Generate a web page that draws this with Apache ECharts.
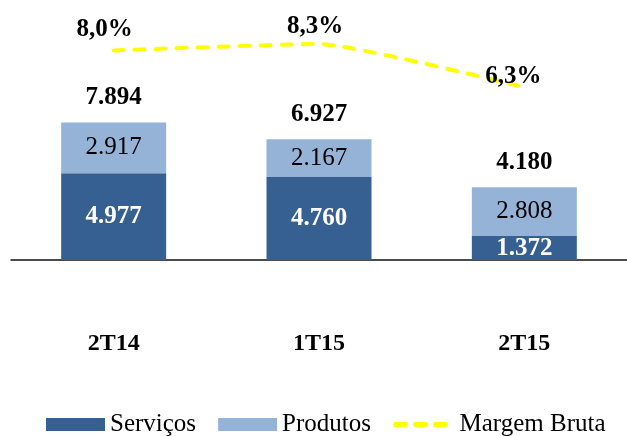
<!DOCTYPE html>
<html>
<head>
<meta charset="utf-8">
<script src="https://cdn.jsdelivr.net/npm/echarts@6/dist/echarts.min.js"></script>
<style>
html,body{margin:0;padding:0;background:#fff;}
#c{width:627px;height:436px;}
</style>
</head>
<body>
<div id="c"></div>
<script>
const categories = ['2T14', '1T15', '2T15'];
const servicos = [4977, 4760, 1372];
const produtos = [2917, 2167, 2808];
const margemBruta = [8.0, 8.3, 6.3];

const totals = categories.map((c, i) => servicos[i] + produtos[i]);
const FONT = "'Liberation Serif', 'Times New Roman', serif";
const fmtNum = v => String(v).replace(/\B(?=(\d{3})+(?!\d))/g, '.');
const fmtPct = v => v.toFixed(1).replace('.', ',') + '%';
const pctOffsets = [[-9, -21], [-4, -17], [-11, -11]];

const chart = echarts.init(document.getElementById('c'), null, {renderer: 'canvas'});
chart.setOption({
  animation: false,
  backgroundColor: '#ffffff',
  textStyle: {fontFamily: FONT},
  grid: {left: 11, top: 44, width: 623, bottom: 176, containLabel: false},
  legend: {
    left: 46, top: 412, padding: 0,
    itemWidth: 59, itemHeight: 13, itemGap: 22,
    data: [
      {name: 'Serviços', icon: 'rect'},
      {name: 'Produtos', icon: 'rect'},
      {name: 'Margem Bruta', itemStyle: {opacity: 0},
       lineStyle: {color: '#FFFF00', width: 5, type: [10, 10], cap: 'round'}}
    ],
    textStyle: {fontFamily: FONT, fontSize: 25, color: '#000'}
  },
  xAxis: {
    type: 'category', data: categories,
    axisTick: {show: false},
    axisLine: {lineStyle: {color: '#111', width: 1.5}},
    axisLabel: {margin: 72, fontFamily: FONT, fontSize: 24, fontWeight: 'bold', color: '#000'}
  },
  yAxis: [
    {type: 'value', min: 0, max: 12400, show: false, splitLine: {show: false}},
    {type: 'value', min: -1.7, max: 8.3, show: false, splitLine: {show: false}}
  ],
  series: [
    {
      name: 'Serviços', type: 'bar', stack: 'total', barWidth: 105,
      data: servicos,
      itemStyle: {color: '#376092'},
      label: {show: true, position: 'inside', formatter: p => fmtNum(p.value),
        fontFamily: FONT, fontSize: 25, fontWeight: 'bold', color: '#fff'}
    },
    {
      name: 'Produtos', type: 'bar', stack: 'total', barWidth: 105,
      data: produtos,
      itemStyle: {color: '#95B3D7'},
      label: {show: true, position: 'inside', formatter: p => fmtNum(p.value),
        fontFamily: FONT, fontSize: 25, color: '#000'}
    },
    {
      name: 'Total', type: 'scatter', data: totals, symbolSize: 0,
      silent: true, itemStyle: {opacity: 1},
      label: {show: true, position: 'inside', offset: [0, -25], formatter: p => fmtNum(p.value),
        fontFamily: FONT, fontSize: 25, fontWeight: 'bold', color: '#000'}
    },
    {
      name: 'Margem Bruta', type: 'line', yAxisIndex: 1, data: margemBruta,
      symbol: 'none', smooth: 0.15, z: 5,
      itemStyle: {color: '#FFFF00'},
      lineStyle: {color: '#FFFF00', width: 4, type: [10, 11], cap: 'round'}
    },
    {
      name: 'MargemLabels', type: 'scatter', yAxisIndex: 1, symbolSize: 0, silent: true, z: 6,
      itemStyle: {opacity: 1},
      data: margemBruta.map((v, i) => ({value: v, label: {offset: pctOffsets[i]}})),
      label: {show: true, position: 'inside', formatter: p => fmtPct(p.value),
        fontFamily: FONT, fontSize: 25, fontWeight: 'bold', color: '#000'}
    }
  ]
});
</script>
</body>
</html>
